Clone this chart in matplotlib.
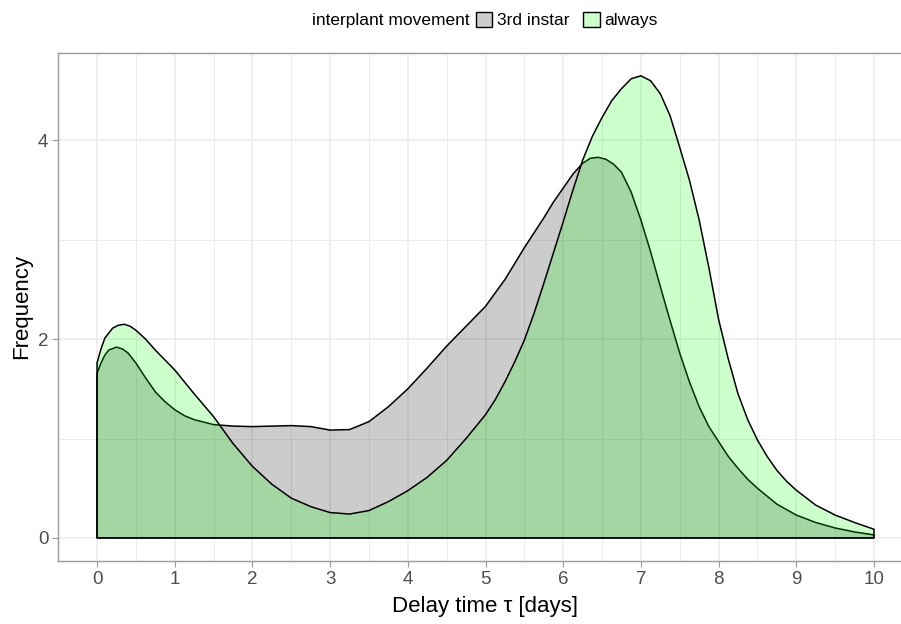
import numpy as np
import matplotlib
matplotlib.use("Agg")
import matplotlib.pyplot as plt
from matplotlib.patches import Patch

plt.rcParams['font.family'] = ['Liberation Sans', 'DejaVu Sans']

# density curves
x_instar = [0, 0.05, 0.1, 0.15, 0.25, 0.33, 0.4, 0.5, 0.625, 0.75, 0.875, 1.0, 1.125,
            1.25, 1.5, 1.75, 2.0, 2.25, 2.5, 2.75, 3.0, 3.25, 3.5, 3.75, 4.0, 4.25,
            4.5, 4.75, 5.0, 5.25, 5.5, 5.75, 5.875, 6.0, 6.125, 6.25, 6.35, 6.45,
            6.55, 6.65, 6.75, 6.875, 7.0, 7.125, 7.25, 7.375, 7.5, 7.625, 7.75,
            7.875, 8.0, 8.125, 8.25, 8.375, 8.5, 8.75, 9.0, 9.25, 9.5, 9.75, 10.0]
y_instar = [1.655, 1.76, 1.84, 1.89, 1.92, 1.90, 1.86, 1.76, 1.61, 1.47, 1.37, 1.29,
            1.23, 1.19, 1.14, 1.125, 1.12, 1.125, 1.13, 1.12, 1.085, 1.09, 1.17, 1.32,
            1.50, 1.71, 1.93, 2.13, 2.33, 2.60, 2.92, 3.22, 3.38, 3.52, 3.66, 3.77,
            3.82, 3.83, 3.81, 3.76, 3.68, 3.48, 3.20, 2.88, 2.53, 2.19, 1.86, 1.57,
            1.32, 1.12, 0.97, 0.82, 0.70, 0.59, 0.50, 0.34, 0.23, 0.155, 0.10, 0.06,
            0.03]

x_always = [0, 0.05, 0.1, 0.2, 0.275, 0.35, 0.425, 0.5, 0.625, 0.75, 1.0, 1.25, 1.5,
            1.75, 2.0, 2.25, 2.5, 2.75, 3.0, 3.25, 3.5, 3.75, 4.0, 4.25, 4.5, 4.75,
            5.0, 5.125, 5.25, 5.375, 5.5, 5.625, 5.75, 5.875, 6.0, 6.125, 6.25, 6.375,
            6.5, 6.625, 6.75, 6.875, 7.0, 7.125, 7.25, 7.375, 7.5, 7.625, 7.75, 7.875,
            8.0, 8.125, 8.25, 8.375, 8.5, 8.625, 8.75, 8.875, 9.0, 9.25, 9.5, 9.75,
            10.0]
y_always = [1.76, 1.90, 2.01, 2.11, 2.14, 2.15, 2.13, 2.09, 2.00, 1.89, 1.69, 1.45,
            1.22, 0.95, 0.72, 0.54, 0.40, 0.315, 0.255, 0.24, 0.275, 0.365, 0.475,
            0.61, 0.78, 1.00, 1.24, 1.39, 1.57, 1.77, 1.99, 2.26, 2.56, 2.87, 3.18,
            3.50, 3.80, 4.04, 4.23, 4.40, 4.52, 4.62, 4.65, 4.60, 4.47, 4.25, 3.93,
            3.60, 3.20, 2.72, 2.20, 1.80, 1.45, 1.19, 0.985, 0.82, 0.68, 0.57, 0.48,
            0.33, 0.23, 0.155, 0.087]

groups = ['3rd instar', 'always']
fills = [(0, 0, 0, 0.2), (0, 1, 0, 0.2)]

fig = plt.figure(figsize=(9.01, 6.24), dpi=100)
ax = fig.add_axes([58.2 / 901, 63 / 624, 854.6 / 901, 508.3 / 624])

for xs, ys, fc in [(x_instar, y_instar, fills[0]), (x_always, y_always, fills[1])]:
    px = np.r_[xs[0], xs, xs[-1]]
    py = np.r_[0, ys, 0]
    ax.fill(px, py, facecolor=fc, edgecolor='black', linewidth=1.1,
            joinstyle='round', zorder=3)

ax.set_xlim(-0.5, 10.5)
ax.set_ylim(-0.2325, 4.8825)
ax.set_xticks(range(0, 11))
ax.set_xticks(np.arange(0.5, 10.5, 1), minor=True)
ax.set_yticks([0, 2, 4])
ax.set_yticks([1, 3], minor=True)

ax.grid(True, which='major', color='#ebebeb', linewidth=1.1, zorder=0)
ax.grid(True, which='minor', color='#ebebeb', linewidth=0.7, zorder=0)
ax.set_axisbelow(True)

for s in ax.spines.values():
    s.set_color('#9a9a9a')
    s.set_linewidth(1.0)

ax.tick_params(which='major', length=4, color='#9a9a9a', labelsize=13.5,
               labelcolor='#4d4d4d', pad=3)
ax.tick_params(which='minor', length=0)

ax.set_xlabel('Delay time \u03c4 [days]', fontsize=16, labelpad=6)
ax.set_ylabel('Frequency', fontsize=16, labelpad=4)

handles = [Patch(facecolor=fills[0], edgecolor='black', linewidth=1.0),
           Patch(facecolor=fills[1], edgecolor='black', linewidth=1.0)]
fig.legend(handles, groups, loc='center left', bbox_to_anchor=(476 / 901, 1 - 20 / 624),
           ncol=2, frameon=False, fontsize=12.5, handlelength=0.95, handleheight=0.95,
           handletextpad=0.25, columnspacing=0.8, borderpad=0, borderaxespad=0)
fig.text(470 / 901, 1 - 20 / 624, 'interplant movement', ha='right', va='center',
         fontsize=12.5)

fig.savefig('out.png', dpi=100)
